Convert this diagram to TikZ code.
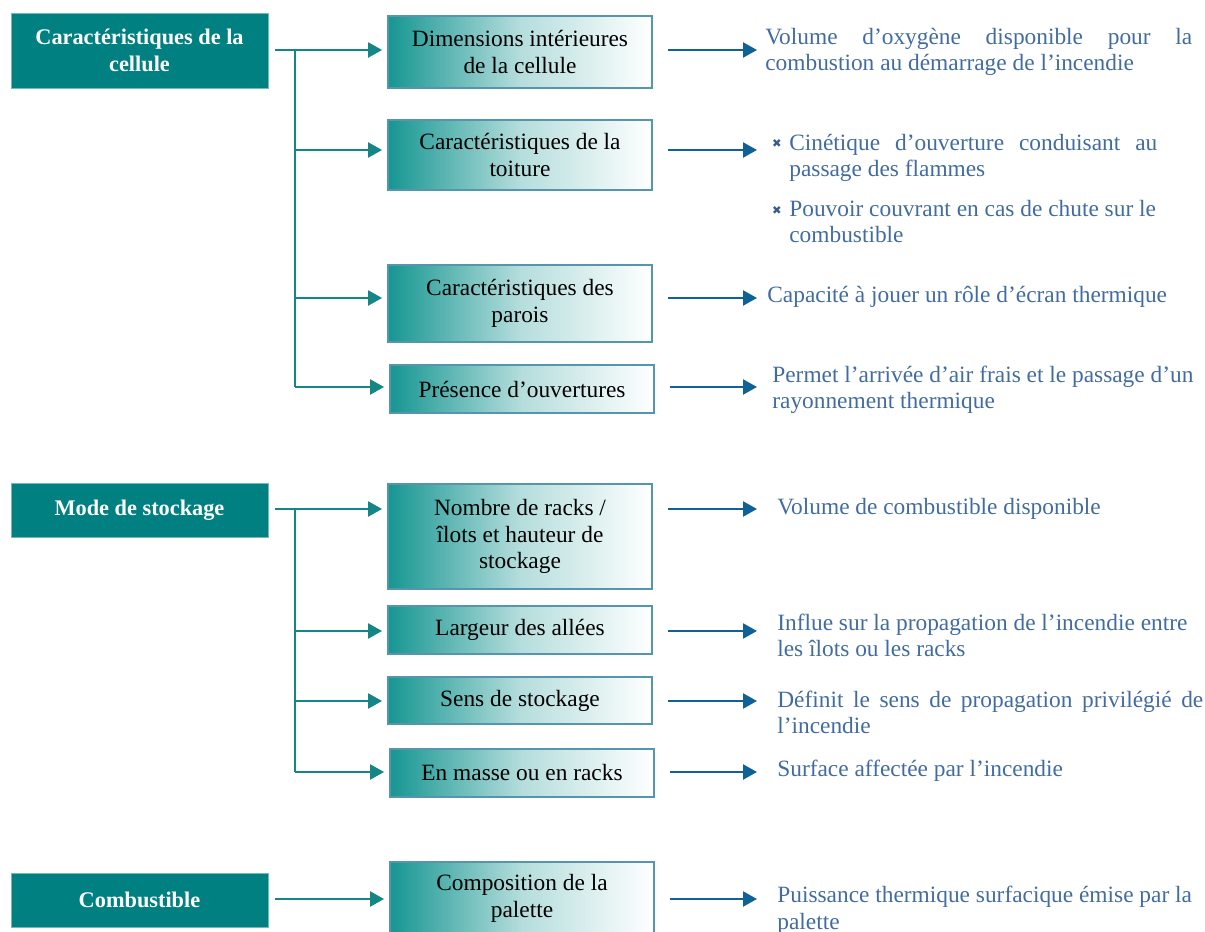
\documentclass[tikz,border=0pt]{standalone}
\usepackage{fontspec}
\setmainfont{Liberation Serif}
\newfontfamily\djvsans{DejaVu Sans}
\usetikzlibrary{arrows.meta}
\definecolor{lteal}{RGB}{0,128,128}
\definecolor{gteal}{RGB}{22,150,146}
\definecolor{mborder}{RGB}{86,150,172}
\definecolor{cteal}{RGB}{20,134,134}
\definecolor{ablue}{RGB}{16,98,150}
\definecolor{tblue}{RGB}{66,108,160}
\newcommand{\fsz}{\fontsize{13.3}{15.3}\selectfont}
\newcommand{\lsz}{\fontsize{12.7}{15.3}\selectfont}
\newcommand{\bulx}{{\djvsans\fontsize{6.5}{6.5}\selectfont ✖}}
\begin{document}
\begin{tikzpicture}[x=0.02cm,y=-0.02cm,
  leftbox/.style={fill=lteal, draw=lteal!55!white, line width=0.4pt, text=white, font=\bfseries\lsz, align=center, inner sep=0pt, minimum width=5.14cm},
  midbox/.style={draw=mborder, line width=1.1pt, left color=gteal, right color=white, middle color=gteal!32!white, font=\fsz, align=center, inner sep=0pt, minimum width=5.28cm},
  rtext/.style={text=tblue, font=\fsz, align=left, inner sep=0pt, anchor=base west},
  bullet/.style={text=tblue!85!black, inner sep=0pt},
  conn/.style={draw=cteal, line width=1.35pt},
  carr/.style={conn, -{Triangle[length=0.28cm,width=0.3cm]}, shorten >=0.1cm},
  barr/.style={draw=ablue, line width=1.35pt, -{Triangle[length=0.28cm,width=0.3cm]}, shorten <=0.3cm}
]
\useasboundingbox (0,0) rectangle (1205,932);
\clip (0,0) rectangle (1205,932);

% row coordinates
\coordinate (r1) at (0,50);
\coordinate (r2) at (0,150);
\coordinate (r3) at (0,298);
\coordinate (r4) at (0,387);
\coordinate (r5) at (0,509);
\coordinate (r6) at (0,631);
\coordinate (r7) at (0,701);
\coordinate (r8) at (0,772);
\coordinate (r9) at (0,899);

% left boxes
\node[leftbox, minimum height=1.5cm] (L1) at (139.5,50.5) {Caract\'eristiques de la\\cellule};
\node[leftbox, minimum height=1.08cm] (L2) at (139.5,510) {Mode de stockage};
\node[leftbox, minimum height=1.08cm] (L3) at (139.5,900) {Combustible};

% middle boxes
\node[midbox, minimum height=1.44cm] (m1) at (520,52) {Dimensions int\'erieures\\de la cellule};
\node[midbox, minimum height=1.40cm] (m2) at (520,155) {Caract\'eristiques de la\\toiture};
\node[midbox, minimum height=1.54cm] (m3) at (520,303.5) {Caract\'eristiques des\\parois};
\node[midbox, minimum height=0.96cm] (m4) at (522,389) {Pr\'esence d'ouvertures};
\node[midbox, minimum height=2.10cm] (m5) at (520,536.5) {Nombre de racks /\\\^{\i}lots et hauteur de\\stockage};
\node[midbox, minimum height=0.96cm] (m6) at (520,630) {Largeur des all\'ees};
\node[midbox, minimum height=0.94cm] (m7) at (520,700.5) {Sens de stockage};
\node[midbox, minimum height=0.96cm] (m8) at (522,773) {En masse ou en racks};
\node[midbox, minimum height=1.44cm] (m9) at (522,898) {Composition de la\\palette};

% right texts (anchor = baseline of last line)
\node[rtext] (t1) at (765,71) {\makebox[8.54cm][s]{Volume d'oxyg\`ene disponible pour la}\\combustion au d\'emarrage de l'incendie};
\node[bullet] (b1) at (777,144) {\bulx};
\node[rtext] (t2a) at (789,177) {\makebox[7.36cm][s]{Cin\'etique d'ouverture conduisant au}\\passage des flammes};
\node[bullet] (b2) at (777,211) {\bulx};
\node[rtext] (t2b) at (789,243) {Pouvoir couvrant en cas de chute sur le\\combustible};
\node[rtext] (t3) at (767,303) {Capacit\'e \`a jouer un r\^ole d'\'ecran thermique};
\node[rtext] (t4) at (772,409) {Permet l'arriv\'ee d'air frais et le passage d'un\\rayonnement thermique};
\node[rtext] (t5) at (777,515) {Volume de combustible disponible};
\node[rtext] (t6) at (777,657) {Influe sur la propagation de l'incendie entre\\les \^{\i}lots ou les racks};
\node[rtext] (t7) at (777,734) {\makebox[8.52cm][s]{D\'efinit le sens de propagation privil\'egi\'e de}\\l'incendie};
\node[rtext] (t8) at (777,777) {Surface affect\'ee par l'incendie};
\node[rtext] (t9) at (777,929) {Puissance thermique surfacique \'emise par la\\palette};

% trunks
\coordinate (j1) at (295,50);
\coordinate (j2) at (295,509);

% section 1 connectors
\draw[carr, shorten <=0.14cm] (L1.east |- r1) -- (m1.west |- r1);
\draw[conn] (j1) -- (j1 |- r4);
\draw[carr] (j1 |- r2) -- (m2.west |- r2);
\draw[carr] (j1 |- r3) -- (m3.west |- r3);
\draw[carr] (j1 |- r4) -- (m4.west |- r4);

% section 2 connectors
\draw[carr, shorten <=0.14cm] (L2.east |- r5) -- (m5.west |- r5);
\draw[conn] (j2) -- (j2 |- r8);
\draw[carr] (j2 |- r6) -- (m6.west |- r6);
\draw[carr] (j2 |- r7) -- (m7.west |- r7);
\draw[carr] (j2 |- r8) -- (m8.west |- r8);

% section 3 connector
\draw[carr, shorten <=0.14cm] (L3.east |- r9) -- (m9.west |- r9);

% right arrows
\coordinate (a1) at (757,50);
\coordinate (a2) at (757,150);
\coordinate (a3) at (757,298);
\coordinate (a4) at (757,387);
\coordinate (a5) at (757,509);
\coordinate (a6) at (757,631);
\coordinate (a7) at (757,701);
\coordinate (a8) at (757,772);
\coordinate (a9) at (757,899);
\draw[barr] (m1.east |- a1) -- (a1);
\draw[barr] (m2.east |- a2) -- (a2);
\draw[barr] (m3.east |- a3) -- (a3);
\draw[barr] (m4.east |- a4) -- (a4);
\draw[barr] (m5.east |- a5) -- (a5);
\draw[barr] (m6.east |- a6) -- (a6);
\draw[barr] (m7.east |- a7) -- (a7);
\draw[barr] (m8.east |- a8) -- (a8);
\draw[barr] (m9.east |- a9) -- (a9);
\end{tikzpicture}
\end{document}
